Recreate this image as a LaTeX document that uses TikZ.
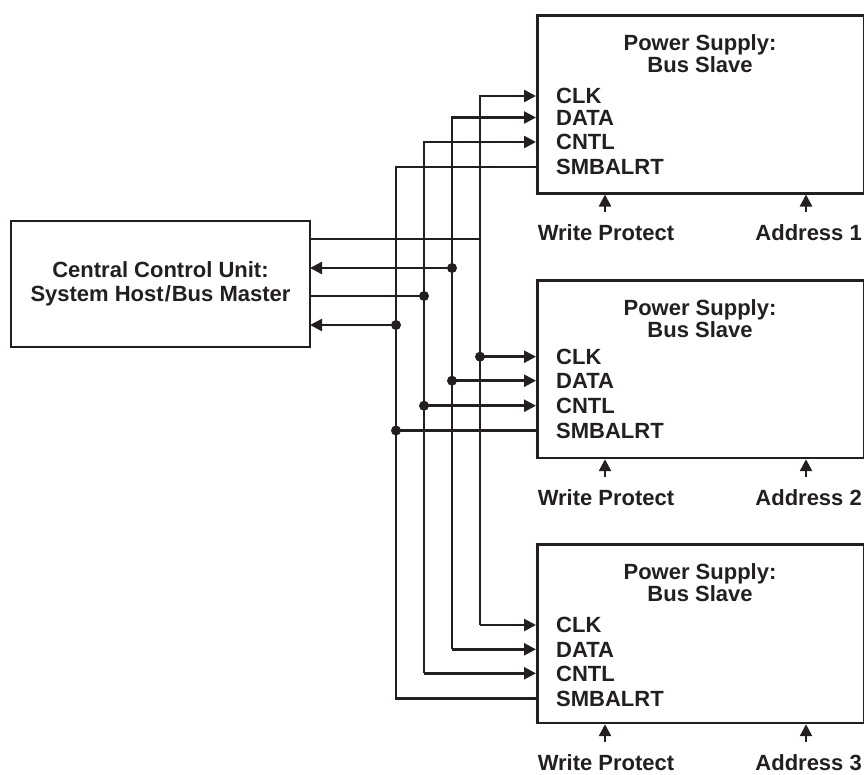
\documentclass[tikz,border=0pt]{standalone}
\usepackage{fontspec}
\setmainfont{Liberation Sans}
\usetikzlibrary{arrows.meta}
\definecolor{ink}{RGB}{35,31,32}
\begin{document}
\begin{tikzpicture}[x=1pt,y=-1pt,
  wire/.style={draw=ink,line width=2.5pt},
  sigarrow/.style={-{Triangle[length=12pt,width=12pt]}},
  boxstyle/.style={draw=ink,line width=2.5pt,inner sep=0pt},
  lbl/.style={font=\fontsize{22}{24}\selectfont\bfseries,text=ink,inner sep=0pt,text height=15.5pt,text depth=0pt},
  dotnode/.style={circle,fill=ink,inner sep=0pt,minimum size=10pt}]
\useasboundingbox (0,0) rectangle (864,774);

% central control unit
\node[boxstyle,minimum width=299pt,minimum height=126pt] (cc) at (160.5,284) {};
\node[lbl,anchor=center] (cct1) at (160.5,270) {Central Control Unit:};
\node[lbl,anchor=center] (cct2) at (160.5,294) {System Host\kern1pt/\kern1ptBus Master};

% slave boxes
\foreach \i/\top/\bot in {1/14/192,2/279/456.7,3/543.3/721.7}{
  \node[boxstyle,minimum width=327pt,minimum height=\bot-\top,anchor=north west] (s\i) at (536,\top) {};
  \node[lbl] (s\i t1) at (700,\top+28.5) {Power Supply:};
  \node[lbl] (s\i t2) at (700,\top+50.5) {Bus Slave};
  \coordinate (wp\i) at (605,\bot+20);
  \coordinate (ad\i) at (806,\bot+20);
  \draw[wire,sigarrow] (wp\i) -- (wp\i |- s\i.south);
  \draw[wire,sigarrow] (ad\i) -- (ad\i |- s\i.south);
  \node[lbl] (wpl\i) at (606,\bot+41) {Write Protect};
  \node[lbl,anchor=east] (adl\i) at (862,\bot+41) {Address \i};
}

% port rows
\foreach \i/\ya/\yb/\yc/\yd in {1/96/117.5/142/167,2/356.7/380.7/405.7/430.5,3/625/649.3/673.3/698.3}{
  \coordinate (s\i clk) at (536,\ya);
  \coordinate (s\i dat) at (536,\yb);
  \coordinate (s\i cnt) at (536,\yc);
  \coordinate (s\i smb) at (536,\yd);
  \node[lbl,anchor=west] (l\i a) at (556,\ya) {CLK};
  \node[lbl,anchor=west] (l\i b) at (556,\yb) {DATA};
  \node[lbl,anchor=west] (l\i c) at (556,\yc) {CNTL};
  \node[lbl,anchor=west] (l\i d) at (556,\yd) {SMBALRT};
}

% master ports
\coordinate (mclk) at (310,239);
\coordinate (mdat) at (310,268);
\coordinate (mcnt) at (310,296);
\coordinate (msmb) at (310,325);

% bus verticals
\coordinate (vclk) at (480,0);
\coordinate (vdat) at (452,0);
\coordinate (vcnt) at (424,0);
\coordinate (vsmb) at (396,0);

% CLK
\draw[wire] (mclk) -- (vclk |- mclk);
\draw[wire,sigarrow] (vclk |- s3clk) -- (vclk |- s1clk) -- (s1clk);
\draw[wire,sigarrow] (vclk |- s2clk) -- (s2clk);
\draw[wire,sigarrow] (vclk |- s3clk) -- (s3clk);
\node[dotnode] (dclk2) at (vclk |- s2clk) {};

% DATA
\draw[wire,sigarrow] (vdat |- s3dat) -- (vdat |- s1dat) -- (s1dat);
\draw[wire,sigarrow] (vdat |- s2dat) -- (s2dat);
\draw[wire,sigarrow] (vdat |- s3dat) -- (s3dat);
\draw[wire,sigarrow] (vdat |- mdat) -- (mdat);
\node[dotnode] (ddat0) at (vdat |- mdat) {};
\node[dotnode] (ddat2) at (vdat |- s2dat) {};

% CNTL
\draw[wire,sigarrow] (vcnt |- s3cnt) -- (vcnt |- s1cnt) -- (s1cnt);
\draw[wire,sigarrow] (vcnt |- s2cnt) -- (s2cnt);
\draw[wire,sigarrow] (vcnt |- s3cnt) -- (s3cnt);
\draw[wire] (mcnt) -- (vcnt |- mcnt);
\node[dotnode] (dcnt0) at (vcnt |- mcnt) {};
\node[dotnode] (dcnt2) at (vcnt |- s2cnt) {};

% SMBALRT
\draw[wire] (s1smb) -- (vsmb |- s1smb) -- (vsmb |- s3smb) -- (s3smb);
\draw[wire] (s2smb) -- (vsmb |- s2smb);
\draw[wire,sigarrow] (vsmb |- msmb) -- (msmb);
\node[dotnode] (dsmb0) at (vsmb |- msmb) {};
\node[dotnode] (dsmb2) at (vsmb |- s2smb) {};
\end{tikzpicture}
\end{document}
